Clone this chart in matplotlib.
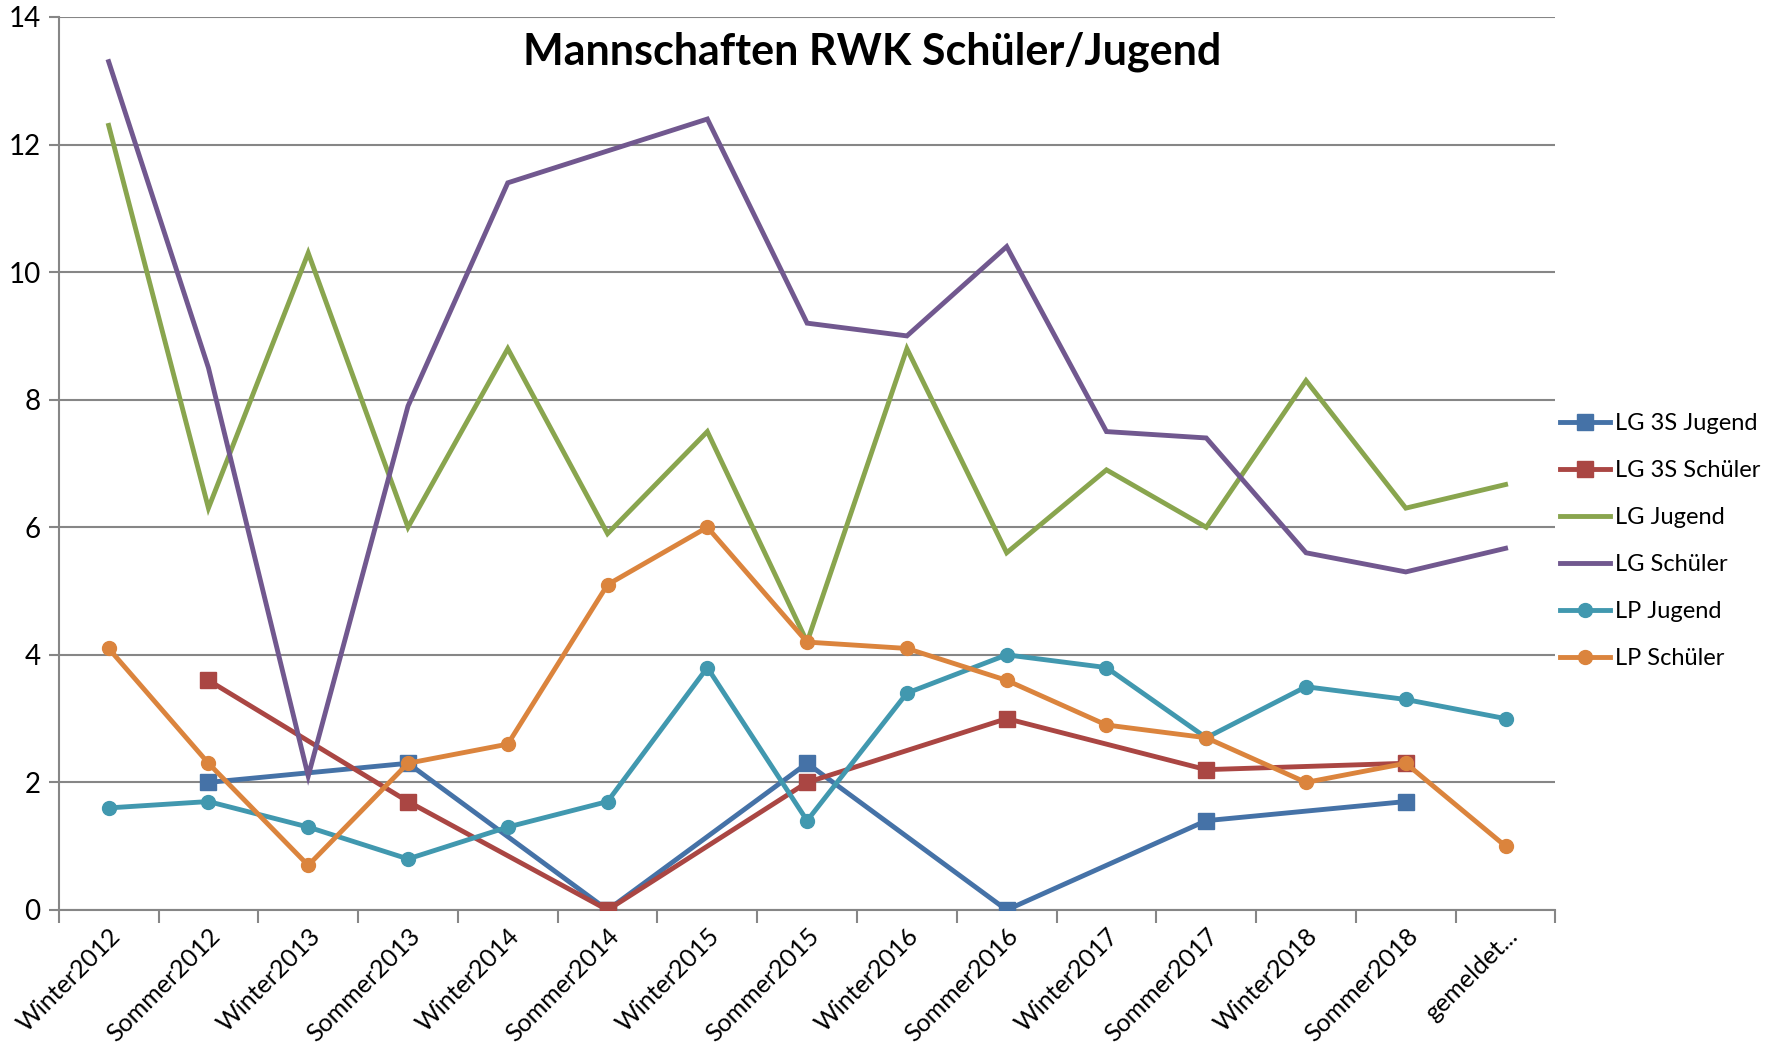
import numpy as np
import matplotlib
matplotlib.use("Agg")
import matplotlib.pyplot as plt

plt.rcParams['font.family'] = ['Lato', 'DejaVu Sans']

categories = ["Winter2012", "Sommer2012", "Winter2013", "Sommer2013", "Winter2014",
              "Sommer2014", "Winter2015", "Sommer2015", "Winter2016", "Sommer2016",
              "Winter2017", "Sommer2017", "Winter2018", "Sommer2018", "gemeldet..."]

lg3s_jugend = [None, 2.0, None, 2.3, None, 0.0, None, 2.3, None, 0.0, None, 1.4, None, 1.7, None]
lg3s_schueler = [None, 3.6, None, 1.7, None, 0.0, None, 2.0, None, 3.0, None, 2.2, None, 2.3, None]
lg_jugend = [12.3, 6.3, 10.3, 6.0, 8.8, 5.9, 7.5, 4.2, 8.8, 5.6, 6.9, 6.0, 8.3, 6.3, 6.67]
lg_schueler = [13.3, 8.5, 2.1, 7.9, 11.4, 11.9, 12.4, 9.2, 9.0, 10.4, 7.5, 7.4, 5.6, 5.3, 5.67]
lp_jugend = [1.6, 1.7, 1.3, 0.8, 1.3, 1.7, 3.8, 1.4, 3.4, 4.0, 3.8, 2.7, 3.5, 3.3, 3.0]
lp_schueler = [4.1, 2.3, 0.7, 2.3, 2.6, 5.1, 6.0, 4.2, 4.1, 3.6, 2.9, 2.7, 2.0, 2.3, 1.0]

series = [
    ("LG 3S Jugend", lg3s_jugend, "#4572A7", "s"),
    ("LG 3S Schüler", lg3s_schueler, "#AA4643", "s"),
    ("LG Jugend", lg_jugend, "#89A54E", None),
    ("LG Schüler", lg_schueler, "#71588F", None),
    ("LP Jugend", lp_jugend, "#4198AF", "o"),
    ("LP Schüler", lp_schueler, "#DB843D", "o"),
]

fig = plt.figure(figsize=(17.7, 10.48), dpi=100)
ax = fig.add_axes([0.0332, 0.1317, 0.8456, 0.8521])

x = np.arange(len(categories)) + 0.5
for name, vals, color, marker in series:
    # gaps are bridged, like Excel "connect data points with line"
    xs = [xi for xi, v in zip(x, vals) if v is not None]
    ys = [v for v in vals if v is not None]
    ax.plot(xs, ys, color=color, lw=3.5, marker=marker, markersize=11 if marker == "s" else 10,
            label=name, solid_joinstyle="miter", zorder=3)

ax.set_xlim(0, len(categories))
ax.set_ylim(0, 14)
ax.set_yticks(range(0, 15, 2))
ax.yaxis.grid(True, color="#868686", lw=1.5)
ax.set_axisbelow(True)

ax.set_xticks(range(0, len(categories) + 1))
ax.set_xticklabels([])
ax.set_xticks(x, minor=True)
ax.set_xticklabels(categories, minor=True, rotation=45, ha="right", rotation_mode="anchor", fontsize=18)
ax.tick_params(axis="x", which="minor", length=0, pad=10)
ax.tick_params(axis="x", which="major", length=9, width=1.5, color="#868686")
ax.tick_params(axis="y", length=7, width=1.5, color="#868686", labelsize=20, pad=6)

for s in ["top", "right"]:
    ax.spines[s].set_visible(False)
for s in ["left", "bottom"]:
    ax.spines[s].set_color("#868686")
    ax.spines[s].set_linewidth(1.5)

fig.text(0.493, 0.951, "Mannschaften RWK Schüler/Jugend", fontsize=31, fontweight="bold",
         ha="center", va="center")

ax.legend(loc="center left", bbox_to_anchor=(1.0, 0.413), frameon=False, fontsize=17,
          handlelength=2.1, labelspacing=1.1, handletextpad=0.2, borderaxespad=0.0,
          borderpad=0.2)

fig.savefig("out.png", dpi=100)
